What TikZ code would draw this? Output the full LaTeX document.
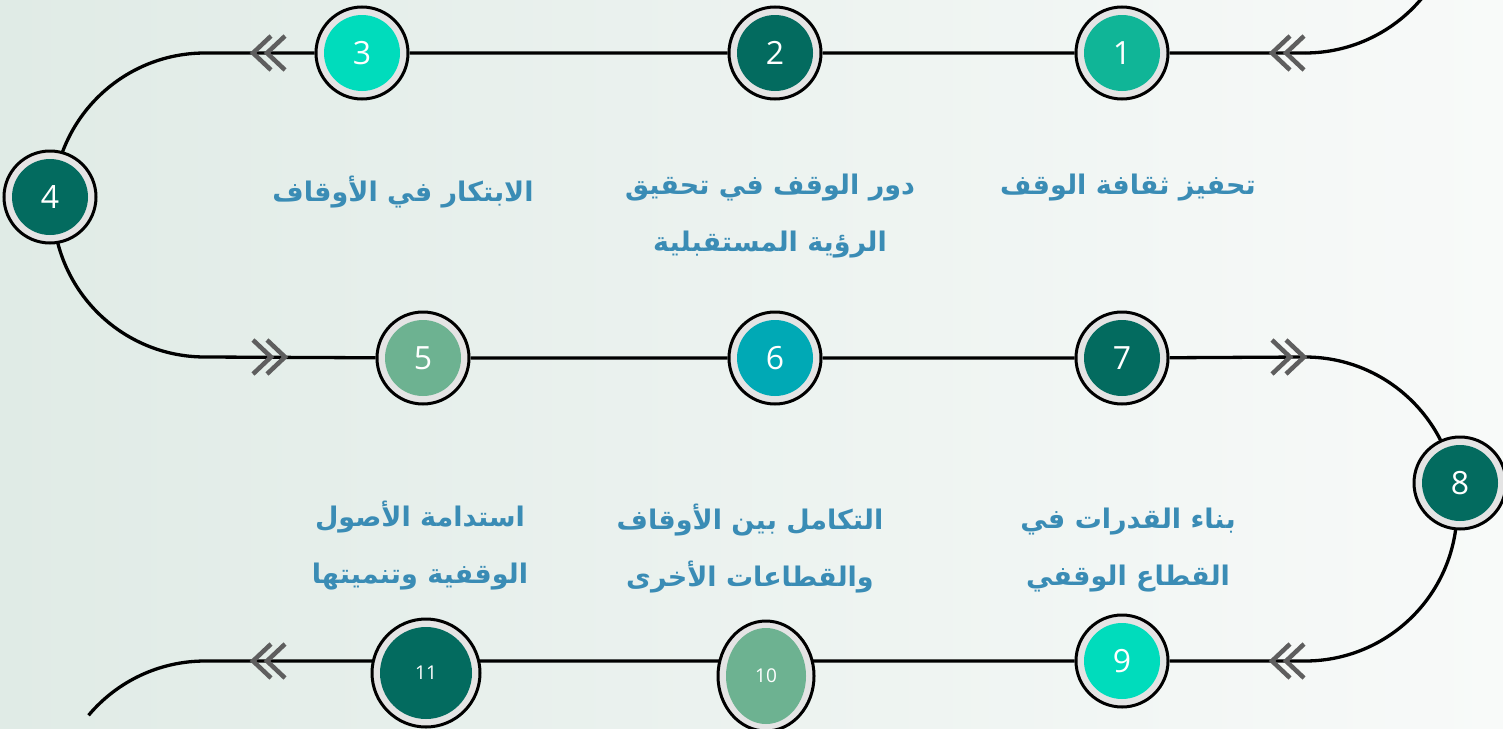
\documentclass[tikz,border=0pt]{standalone}
\usepackage{fontspec}
\setmainfont{Open Sans}
\newfontfamily\arabicfont[Script=Arabic]{DejaVu Sans}
\TeXXeTstate=1
\usetikzlibrary{positioning,shapes.geometric,backgrounds}

\definecolor{deep}{HTML}{036B5F}
\definecolor{mint}{HTML}{00DCBC}
\definecolor{jade}{HTML}{10B597}
\definecolor{sage}{HTML}{6DB291}
\definecolor{lagoon}{HTML}{00A9B5}
\definecolor{ring}{HTML}{E4E4E4}
\definecolor{goaltext}{HTML}{3A8CB5}
\definecolor{chev}{HTML}{5E5E5E}
\definecolor{bgA}{HTML}{E0EBE6}
\definecolor{bgB}{HTML}{F8FAF9}

\tikzset{
  stage/.style={circle, draw=black, line width=3pt, fill=ring, minimum size=92pt,
    inner sep=0pt, text=white, font=\fontsize{32}{34}\selectfont,
    path picture={\fill[#1] (path picture bounding box.center) circle (38pt);}},
  stagebig/.style={circle, draw=black, line width=3pt, fill=ring, minimum size=108pt,
    inner sep=0pt, text=white, font=\fontsize{19}{21}\selectfont,
    path picture={\fill[#1] (path picture bounding box.center) circle (46pt);}},
  stageoval/.style={ellipse, draw=black, line width=3pt, fill=ring, minimum width=96pt,
    minimum height=110pt, inner sep=0pt, text=white, font=\fontsize{19}{21}\selectfont,
    path picture={\fill[#1] (path picture bounding box.center) ellipse (40pt and 48pt);}},
  goal/.style={text=goaltext, align=center, font=\arabicfont\bfseries\fontsize{27}{57}\selectfont},
  track/.style={draw=black, line width=3.3pt},
  chevrons/.pic={\draw[chev, line width=4.5pt] (1,17) -- (-17,0) -- (1,-17)
    (15,17) -- (-3,0) -- (15,-17);}
}

\begin{document}
\begin{tikzpicture}[x=1pt,y=1pt]
\useasboundingbox (0,0) rectangle (1503,-728);
% Nodes
\node(n1)[stage=jade] at (1122,-53){1};
\node(n2)[stage=deep, node distance=347pt, left of = n1]{2};
\node(n3)[stage=mint, node distance=413pt, left of = n2]{3};
\node(n4)[stage=deep] at (50,-197){4};
\node(n5)[stage=sage] at (423,-358){5};
\node(n6)[stage=lagoon, node distance=352pt, right of = n5]{6};
\node(n7)[stage=deep, node distance=347pt, right of = n6]{7};
\node(n8)[stage=deep] at (1460,-483){8};
\node(n9)[stage=mint] at (1122,-661){9};
\node(n10)[stageoval=sage] at (766,-676){10};
\node(n11)[stagebig=deep] at (426,-673){11};
% Labels
\node(g1)[goal] at (1128,-188){\beginR تحفيز ثقافة الوقف\endR};
\node(g2)[goal] at (770,-216){\beginR دور الوقف في تحقيق\endR\\\beginR الرؤية المستقبلية\endR};
\node(g3)[goal] at (403,-192){\beginR الابتكار في الأوقاف\endR};
\node(g9)[goal] at (1128,-550){\beginR بناء القدرات في\endR\\\beginR القطاع الوقفي\endR};
\node(g10)[goal] at (750,-549){\beginR التكامل بين الأوقاف\endR\\\beginR والقطاعات الأخرى\endR};
\node(g11)[goal] at (420,-546){\beginR استدامة الأصول\endR\\\beginR الوقفية وتنميتها\endR};
% Turns
\coordinate(t1) at (1305,-53);
\coordinate(t2) at (205,-53);
\coordinate(t3) at (1305,-357);
\coordinate(t4) at (205,-661);
\begin{scope}[on background layer]
\shade[left color=bgA, right color=bgB] (0,0) rectangle (1503,-728);
% Arcs
\draw[track] (t1) arc[start angle=270, end angle=320, radius=152pt];
\draw[track] (t1) -- (n1) -- (n2) -- (n3) -- (t2)
  arc[start angle=90, end angle=270, radius=152pt] -- (n5) -- (n6) -- (n7) -- (t3)
  arc[start angle=90, end angle=-90, radius=152pt] -- (n9) -- (t4)
  arc[start angle=90, end angle=140, radius=152pt];
\end{scope}
% Chevrons
\foreach \cx/\cy/\rot in {1289/-53/0, 270/-53/0, 268/-357/180, 1287/-357/180, 1289/-661/0, 270/-661/0}
  \pic[rotate=\rot] at (\cx,\cy) {chevrons};
\end{tikzpicture}
\end{document}
